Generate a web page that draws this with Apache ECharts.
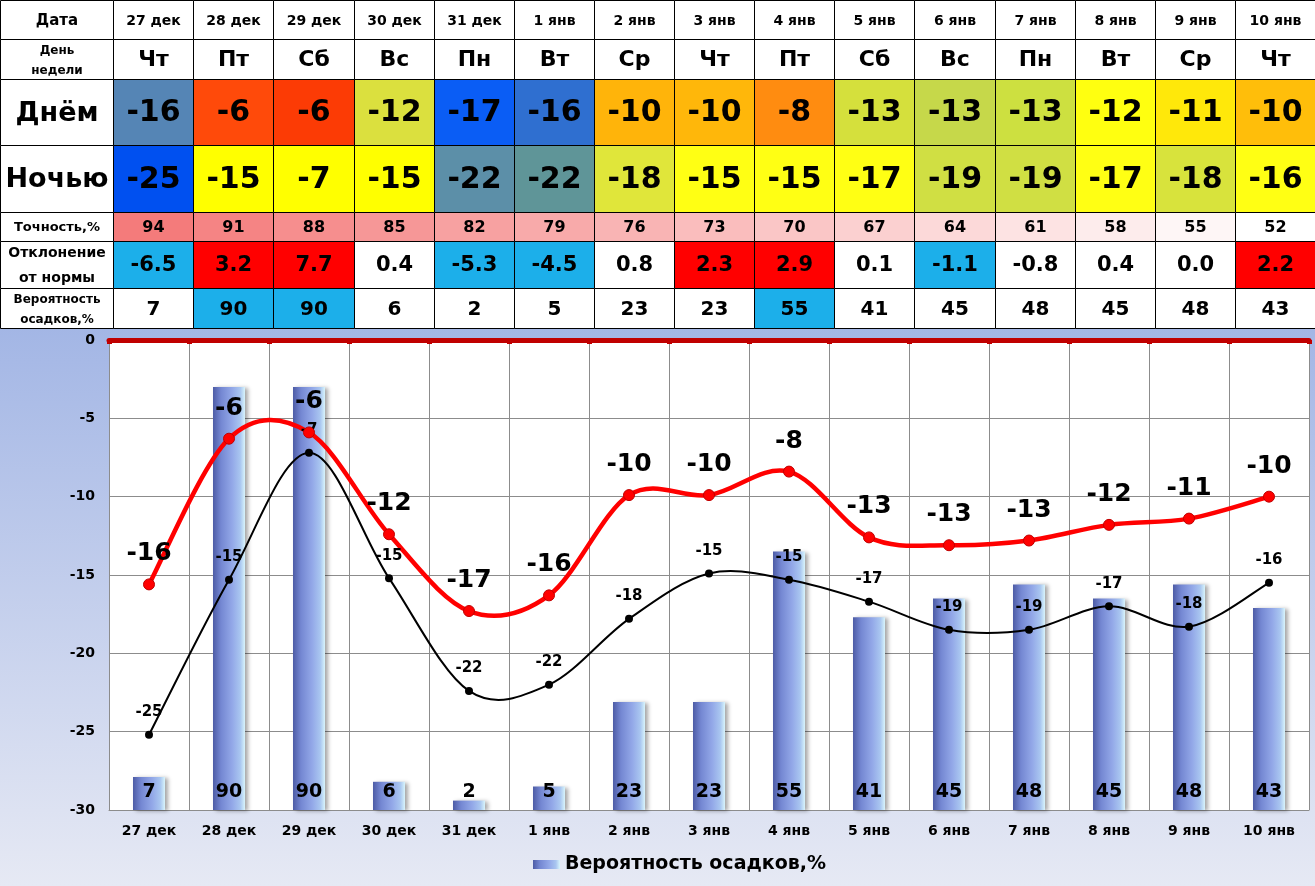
<!DOCTYPE html>
<html>
<head>
<meta charset="utf-8">
<script src="https://cdn.jsdelivr.net/npm/echarts@6/dist/echarts.min.js"></script>
<style>
  html, body { margin: 0; padding: 0; background: #fff; }
  #chart { width: 1315px; height: 886px; }
</style>
</head>
<body>
<div id="chart"></div>
<script>
// данные
const dates = ['27 дек', '28 дек', '29 дек', '30 дек', '31 дек', '1 янв', '2 янв', '3 янв', '4 янв', '5 янв', '6 янв', '7 янв', '8 янв', '9 янв', '10 янв'];
const weekdays = ['Чт', 'Пт', 'Сб', 'Вс', 'Пн', 'Вт', 'Ср', 'Чт', 'Пт', 'Сб', 'Вс', 'Пн', 'Вт', 'Ср', 'Чт'];
const dayTemps = [-16, -6, -6, -12, -17, -16, -10, -10, -8, -13, -13, -13, -12, -11, -10];
const nightTemps = [-25, -15, -7, -15, -22, -22, -18, -15, -15, -17, -19, -19, -17, -18, -16];
const accuracy = [94, 91, 88, 85, 82, 79, 76, 73, 70, 67, 64, 61, 58, 55, 52];
const deviation = [-6.5, 3.2, 7.7, 0.4, -5.3, -4.5, 0.8, 2.3, 2.9, 0.1, -1.1, -0.8, 0.4, 0.0, 2.2];
const precipitation = [7, 90, 90, 6, 2, 5, 23, 23, 55, 41, 45, 48, 45, 48, 43];
// точки кривых на графике (как они стоят на картинке)
const dayCurve = [-15.6, -6.3, -5.9, -12.4, -17.3, -16.3, -9.9, -9.9, -8.4, -12.6, -13.1, -12.8, -11.8, -11.4, -10.0];
const nightCurve = [-25.2, -15.3, -7.2, -15.2, -22.4, -22.0, -17.8, -14.9, -15.3, -16.7, -18.5, -18.5, -17.0, -18.3, -15.5];
const rowTitles = ['Дата', 'День\nнедели', 'Днём', 'Ночью', 'Точность,%', 'Отклонение\nот нормы', 'Вероятность\nосадков,%'];

// оформление таблицы
const FONT = '"DejaVu Sans", sans-serif';
const rowEdges = [0, 39, 79, 145, 212, 241, 288, 328];
const titleFont = [15, 12, 27, 27, 13, 14, 12];
const titleLine = [18, 20, 30, 30, 16, 25, 20];
const valueFont = [14, 22, 30, 30, 16, 21, 20];
const dayColors = ['#5585b5', '#ff4a0a', '#fc3b05', '#dbe03e', '#0a5df5', '#2f6fd0', '#ffb40a', '#ffb70a', '#ff8c10',
  '#d5e03c', '#c6d84a', '#cde040', '#ffff10', '#ffe80a', '#ffbe0a'];
const nightColors = ['#0050f0', '#ffff00', '#ffff00', '#ffff00', '#5c8fa8', '#5f9598', '#e0e63a', '#ffff14', '#ffff14',
  '#ffff14', '#d0df43', '#d0df43', '#ffff14', '#d8e33c', '#ffff14'];
const BLUE = '#1cafea';

function cellFill(r, i) {
  if (r === 2) return dayColors[i];
  if (r === 3) return nightColors[i];
  if (r === 4) {
    const t = (accuracy[i] - 52) / (94 - 52);
    return echarts.color.lerp(t, ['#ffffff', '#f47b7b']);
  }
  if (r === 5) {
    if (deviation[i] <= -1) return BLUE;
    if (deviation[i] >= 2) return '#ff0000';
    return '#fff';
  }
  if (r === 6) return precipitation[i] >= 50 ? BLUE : '#fff';
  return '#fff';
}

const rows = [dates, weekdays, dayTemps, nightTemps, accuracy, deviation.map(v => v.toFixed(1)), precipitation];
const cells = [];
rows.forEach((vals, r) => {
  cells.push({ col: -1, row: r, text: rowTitles[r], fill: '#fff', font: titleFont[r], lh: titleLine[r] });
  vals.forEach((v, i) => {
    cells.push({ col: i, row: r, text: String(v), fill: cellFill(r, i), font: valueFont[r], lh: Math.round(valueFont[r] * 1.2) });
  });
});

const LABEL_COL = -113 / 80;

function renderCell(params, api) {
  const c = cells[params.dataIndex];
  const x0 = c.col < 0 ? LABEL_COL : c.col;
  const x1 = c.col < 0 ? 0 : c.col + 1;
  const p0 = api.coord([x0, rowEdges[c.row]]);
  const p1 = api.coord([x1, rowEdges[c.row + 1]]);
  const left = Math.round(p0[0]) + 0.5, top = Math.round(p0[1]) + 0.5;
  const right = Math.round(p1[0]) + 0.5, bottom = Math.round(p1[1]) + 0.5;
  return {
    type: 'group',
    children: [
      {
        type: 'rect',
        shape: { x: left, y: top, width: right - left, height: bottom - top },
        style: { fill: c.fill, stroke: '#000', lineWidth: 1 }
      },
      {
        type: 'text',
        style: {
          text: c.text,
          x: (left + right) / 2,
          y: (top + bottom) / 2 + 1,
          align: 'center',
          verticalAlign: 'middle',
          fontFamily: FONT,
          fontWeight: 'bold',
          fontSize: c.font,
          lineHeight: c.lh,
          fill: '#000'
        }
      }
    ]
  };
}

// сглаживание как в Excel (Catmull-Rom), через шкалы осей
function curveRenderer(values, color, width) {
  const last = values.length - 1;
  return function (params, api) {
    const i = params.dataIndex;
    const pt = k => {
      const j = Math.max(0, Math.min(last, k));
      return api.coord([j, values[j]]);
    };
    const p0 = pt(i - 1), p1 = pt(i), p2 = pt(i + 1), p3 = pt(i + 2);
    return {
      type: 'bezierCurve',
      shape: {
        x1: p1[0], y1: p1[1], x2: p2[0], y2: p2[1],
        cpx1: p1[0] + (p2[0] - p0[0]) / 6, cpy1: p1[1] + (p2[1] - p0[1]) / 6,
        cpx2: p2[0] - (p3[0] - p1[0]) / 6, cpy2: p2[1] - (p3[1] - p1[1]) / 6
      },
      style: { stroke: color, lineWidth: width, fill: null, lineCap: 'round' }
    };
  };
}

const barColor = new echarts.graphic.LinearGradient(0, 0, 1, 0, [
  { offset: 0, color: '#4d5ca6' },
  { offset: 0.25, color: '#7487d2' },
  { offset: 0.6, color: '#93a8e8' },
  { offset: 0.85, color: '#a9c6f0' },
  { offset: 1, color: '#d8f4fb' }
]);

const chart = echarts.init(document.getElementById('chart'), null, { renderer: 'canvas' });

const option = {
  animation: false,
  backgroundColor: new echarts.graphic.LinearGradient(0, 0, 0, 1, [
    { offset: 0, color: '#ffffff' },
    { offset: 0.369, color: '#ffffff' },
    { offset: 0.37, color: '#a3b6e5' },
    { offset: 1, color: '#e6e9f4' }
  ]),
  textStyle: { fontFamily: FONT },
  grid: [
    { left: 109, right: 6, top: 340, bottom: 76, show: true, backgroundColor: '#fff', borderWidth: 0 },
    { left: 0, right: 0, top: 0, height: 328 }
  ],
  legend: {
    data: ['Вероятность осадков,%'],
    left: 528,
    top: 850,
    icon: 'rect',
    itemWidth: 27,
    itemHeight: 9,
    textStyle: { fontFamily: FONT, fontSize: 19, fontWeight: 'bold', color: '#000' }
  },
  xAxis: [
    {
      type: 'category',
      gridIndex: 0,
      position: 'bottom',
      data: dates,
      axisLine: { show: true, onZero: false, lineStyle: { color: '#8c8c8c' } },
      axisTick: { show: false },
      axisLabel: { color: '#000', fontFamily: FONT, fontWeight: 'bold', fontSize: 14, margin: 14 },
      splitLine: { show: true, lineStyle: { color: '#8c8c8c' } }
    },
    {
      type: 'category',
      gridIndex: 0,
      position: 'top',
      data: dates,
      axisLine: { show: true, onZero: false, lineStyle: { color: '#c00000', width: 5 } },
      axisTick: { show: true, inside: true, length: 4, lineStyle: { color: '#c00000', width: 5 } },
      axisLabel: { show: false }
    },
    { type: 'value', gridIndex: 1, min: LABEL_COL, max: 15, show: false }
  ],
  yAxis: [
    {
      type: 'value',
      gridIndex: 0,
      min: -30,
      max: 0,
      interval: 5,
      axisLine: { show: false },
      axisTick: { show: false },
      axisLabel: { color: '#000', fontFamily: FONT, fontWeight: 'bold', fontSize: 14, margin: 14 },
      splitLine: { lineStyle: { color: '#8c8c8c' } }
    },
    { type: 'value', gridIndex: 0, min: 0, max: 100, show: false },
    { type: 'value', gridIndex: 1, min: 0, max: 328, inverse: true, show: false }
  ],
  series: [
    {
      name: 'Вероятность осадков,%',
      type: 'bar',
      xAxisIndex: 0,
      yAxisIndex: 1,
      data: precipitation,
      barWidth: 32,
      itemStyle: {
        color: barColor,
        shadowColor: 'rgba(0,0,0,0.35)',
        shadowBlur: 4,
        shadowOffsetX: 3,
        shadowOffsetY: 1
      },
      label: {
        show: true,
        position: 'insideBottom',
        distance: 8,
        color: '#000',
        fontFamily: FONT,
        fontSize: 19,
        fontWeight: 'bold'
      },
      z: 2
    },
    {
      type: 'custom',
      xAxisIndex: 0,
      yAxisIndex: 0,
      data: nightCurve.slice(0, -1).map((v, i) => [i, v]),
      renderItem: curveRenderer(nightCurve, '#000', 2),
      silent: true,
      z: 3
    },
    {
      type: 'custom',
      xAxisIndex: 0,
      yAxisIndex: 0,
      data: dayCurve.slice(0, -1).map((v, i) => [i, v]),
      renderItem: curveRenderer(dayCurve, '#ff0000', 4.5),
      silent: true,
      z: 4
    },
    {
      name: 'Ночью',
      type: 'line',
      xAxisIndex: 0,
      yAxisIndex: 0,
      data: nightCurve,
      symbol: 'circle',
      symbolSize: 8,
      lineStyle: { opacity: 0 },
      itemStyle: { color: '#000' },
      label: {
        show: true,
        position: 'top',
        distance: 11,
        formatter: p => nightTemps[p.dataIndex],
        color: '#000',
        fontFamily: FONT,
        fontSize: 15,
        fontWeight: 'bold'
      },
      z: 5
    },
    {
      name: 'Днём',
      type: 'line',
      xAxisIndex: 0,
      yAxisIndex: 0,
      data: dayCurve,
      symbol: 'circle',
      symbolSize: 11,
      lineStyle: { opacity: 0 },
      itemStyle: { color: '#ff0000', borderColor: '#c00000', borderWidth: 1 },
      label: {
        show: true,
        position: 'top',
        distance: 12,
        formatter: p => dayTemps[p.dataIndex],
        color: '#000',
        fontFamily: FONT,
        fontSize: 25,
        fontWeight: 'bold'
      },
      z: 6
    },
    {
      type: 'custom',
      xAxisIndex: 2,
      yAxisIndex: 2,
      data: cells.map(c => [c.col, rowEdges[c.row]]),
      renderItem: renderCell,
      silent: true,
      z: 5
    }
  ]
};

chart.setOption(option);
</script>
</body>
</html>
